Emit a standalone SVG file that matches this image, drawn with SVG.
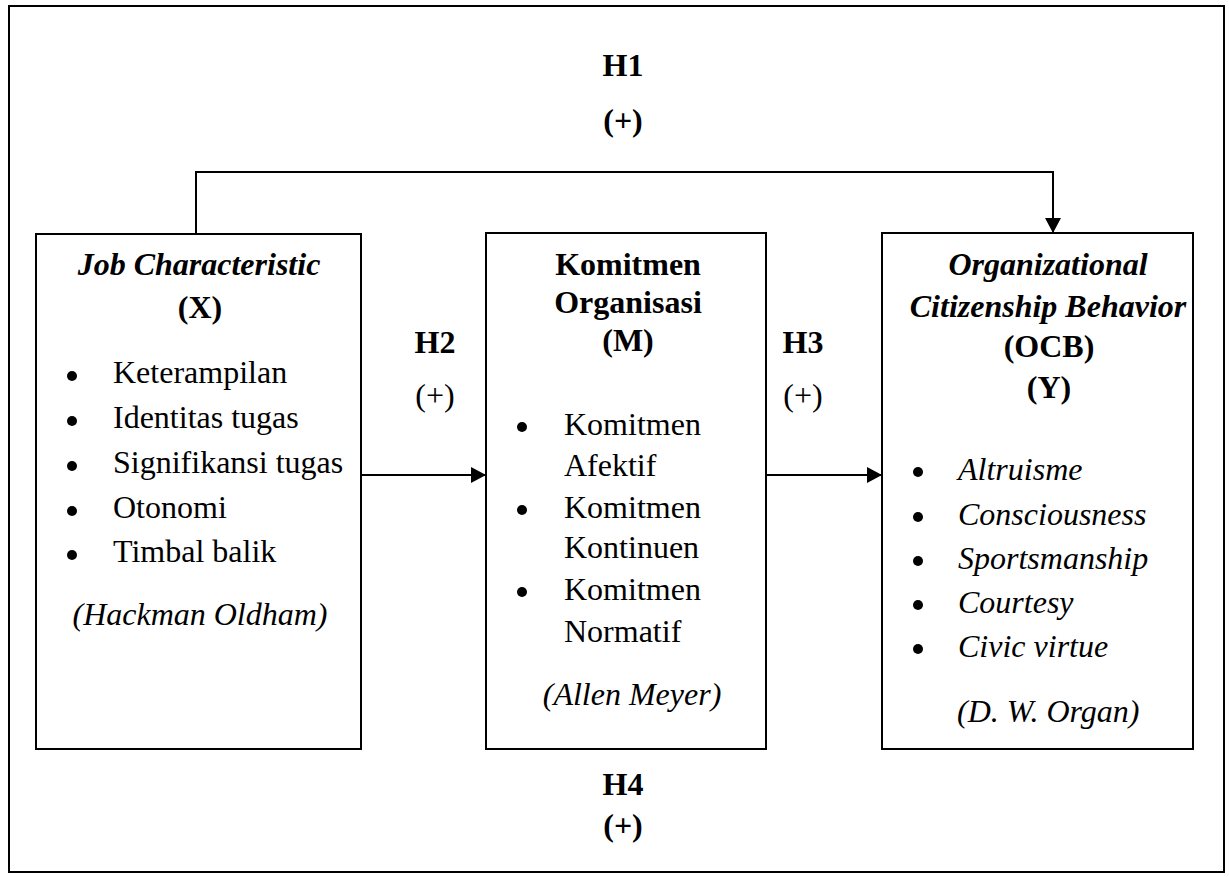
<svg xmlns="http://www.w3.org/2000/svg" width="1229" height="877" viewBox="0 0 1229 877">
<style>
text{font-family:"Liberation Serif","Times New Roman",serif;font-size:32px;fill:#000}
.b{font-weight:bold}
.i{font-style:italic}
.c{text-anchor:middle}
.box{fill:#fff;stroke:#000;stroke-width:2}
.ln{fill:none;stroke:#000;stroke-width:2}
</style>
<defs>
<marker id="ah" markerWidth="16" markerHeight="16" refX="15" refY="8" orient="auto" markerUnits="userSpaceOnUse">
<path d="M0,0 L15,8 L0,16 Z" fill="#000"/>
</marker>
</defs>
<rect x="9" y="6" width="1215" height="866" fill="#fff" stroke="#000" stroke-width="2"/>
<g id="connectors">
<polyline class="ln" points="196,234 196,172 1053,172 1053,233" marker-end="url(#ah)"/>
<line class="ln" x1="361" y1="475" x2="486" y2="475" marker-end="url(#ah)"/>
<line class="ln" x1="766" y1="475" x2="882" y2="475" marker-end="url(#ah)"/>
</g>
<g id="labels">
<text class="b c" x="623" y="76">H1</text>
<text class="b c" x="623" y="131">(+)</text>
<text class="b c" x="435" y="353">H2</text>
<text class="c" x="435" y="406">(+)</text>
<text class="b c" x="803" y="353">H3</text>
<text class="c" x="803" y="406">(+)</text>
<text class="b c" x="623" y="795">H4</text>
<text class="b c" x="623" y="836">(+)</text>
</g>
<g id="nodeX">
<rect class="box" x="36" y="234" width="325" height="515"/>
<text class="b i c" x="199" y="275">Job Characteristic</text>
<text class="b c" x="200" y="318">(X)</text>
<circle cx="72" cy="376" r="5"/><text x="113" y="383">Keterampilan</text>
<circle cx="72" cy="421" r="5"/><text x="113" y="428">Identitas tugas</text>
<circle cx="72" cy="466" r="5"/><text x="113" y="473">Signifikansi tugas</text>
<circle cx="72" cy="511" r="5"/><text x="113" y="518">Otonomi</text>
<circle cx="72" cy="555" r="5"/><text x="113" y="562">Timbal balik</text>
<text class="i c" x="200" y="625">(Hackman Oldham)</text>
</g>
<g id="nodeM">
<rect class="box" x="486" y="233" width="280" height="516"/>
<text class="b c" x="628" y="275">Komitmen</text>
<text class="b c" x="628" y="313">Organisasi</text>
<text class="b c" x="628" y="351">(M)</text>
<circle cx="522" cy="427" r="5"/><text x="564" y="435">Komitmen</text>
<text x="564" y="476">Afektif</text>
<circle cx="522" cy="510" r="5"/><text x="564" y="518">Komitmen</text>
<text x="564" y="558">Kontinuen</text>
<circle cx="522" cy="592" r="5"/><text x="564" y="600">Komitmen</text>
<text x="564" y="642">Normatif</text>
<text class="i c" x="632" y="705">(Allen Meyer)</text>
</g>
<g id="nodeY">
<rect class="box" x="882" y="233" width="311" height="516"/>
<text class="b i c" x="1048" y="275">Organizational</text>
<text class="b i c" x="1048" y="317">Citizenship Behavior</text>
<text class="b c" x="1049" y="357">(OCB)</text>
<text class="b c" x="1049" y="398">(Y)</text>
<circle cx="918" cy="472" r="5"/><text class="i" x="958" y="480">Altruisme</text>
<circle cx="918" cy="517" r="5"/><text class="i" x="958" y="525">Consciousness</text>
<circle cx="918" cy="561" r="5"/><text class="i" x="958" y="569">Sportsmanship</text>
<circle cx="918" cy="605" r="5"/><text class="i" x="958" y="613">Courtesy</text>
<circle cx="918" cy="649" r="5"/><text class="i" x="958" y="657">Civic virtue</text>
<text class="i" x="957" y="722">(D. W. Organ)</text>
</g>
</svg>
